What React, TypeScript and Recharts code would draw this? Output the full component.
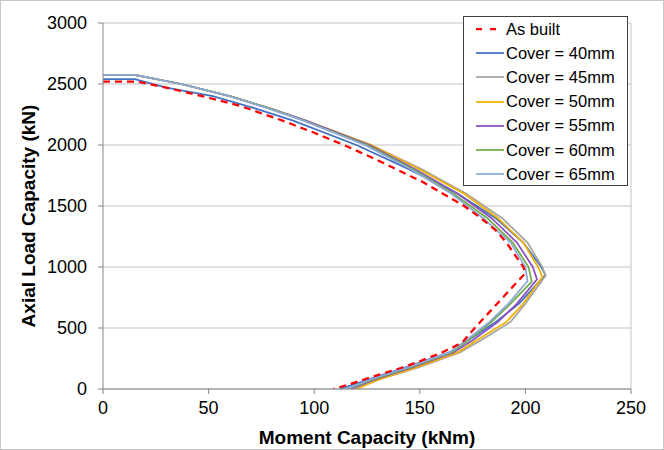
import { LineChart, Line, XAxis, YAxis, CartesianGrid, ReferenceLine } from 'recharts';

// moment (kNm) / axial load (kN) points
const asBuiltM = [0, 16, 30, 47, 65, 85, 100, 114, 127, 139, 151, 161, 171, 179, 186, 191, 199, 200, 194, 188, 176, 170, 160, 150, 141, 132, 124, 116, 109];
const asBuiltP = [2520, 2520, 2470, 2400, 2320, 2200, 2100, 2000, 1900, 1800, 1700, 1600, 1500, 1400, 1300, 1200, 1000, 950, 838, 725, 500, 380, 295, 228, 172, 125, 80, 35, 0];

const cover40M = [0, 15, 30, 52, 72, 90, 120, 145, 168, 186, 199, 207.5, 209.5, 197, 186, 173, 164, 143, 126, 112];
const cover40P = [2540, 2540, 2470, 2400, 2300, 2200, 2000, 1800, 1600, 1400, 1200, 1000, 935, 700, 550, 400, 300, 175, 80, 0];

const coverP = [2575, 2575, 2500, 2400, 2300, 2200, 2000, 1800, 1600, 1400, 1200, 1000];
const cover45M = [0, 15, 37, 60, 79, 96, 127, 151, 172, 189, 201, 208, 209.5, 200, 193, 179, 169, 149, 131, 118];
const cover50M = [0, 15, 37, 60, 79, 96, 127, 150, 171, 187, 199, 206, 208, 199, 191, 177, 168, 148, 131, 120];
const cover55M = [0, 15, 37, 60, 79, 96, 126, 148, 168, 184, 196, 203.5, 205.5, 196, 187, 175, 166, 146, 129, 117];
const cover60M = [0, 15, 37, 60, 79, 95, 125, 147, 166, 182, 194, 201.5, 203, 193, 184, 173, 165, 145, 128, 116];
const cover65M = [0, 15, 37, 60, 78, 95, 124, 146, 165, 180, 193, 200, 201, 192, 183, 172, 164, 144, 127, 115];
const peakP45 = 928;
const peakP50 = 918;
const peakP55 = 900;
const peakP60 = 880;
const peakP65 = 885;
const lowerP = [700, 550, 400, 300, 175, 80, 0];

const xTicks = [0, 50, 100, 150, 200, 250];
const yTicks = [0, 500, 1000, 1500, 2000, 2500, 3000];

const zip = (m: number[], p: number[]) => m.map((v, i) => ({ m: v, p: p[i] }));

const asBuilt = zip(asBuiltM, asBuiltP);
const cover40 = zip(cover40M, cover40P);
const cover45 = zip(cover45M, [...coverP, peakP45, ...lowerP]);
const cover50 = zip(cover50M, [...coverP, peakP50, ...lowerP]);
const cover55 = zip(cover55M, [...coverP, peakP55, ...lowerP]);
const cover60 = zip(cover60M, [...coverP, peakP60, ...lowerP]);
const cover65 = zip(cover65M, [...coverP, peakP65, ...lowerP]);

const series = [
  { name: 'Cover = 40mm', data: cover40, color: '#4472C4' },
  { name: 'Cover = 45mm', data: cover45, color: '#A5A5A5' },
  { name: 'Cover = 50mm', data: cover50, color: '#F0B000' },
  { name: 'Cover = 55mm', data: cover55, color: '#8A4FC0' },
  { name: 'Cover = 60mm', data: cover60, color: '#70AD47' },
  { name: 'Cover = 65mm', data: cover65, color: '#8EA9DB' },
];

const font = 'Arial, "Liberation Sans", sans-serif';
const axisColor = '#868686';
const tickStyle = { fill: '#000', fontSize: 18, fontFamily: font };

function Legend() {
  const rows = [{ name: 'As built', color: '#FF0000', dashed: true }, ...series.map((s) => ({ ...s, dashed: false }))];
  return (
    <div
      style={{
        position: 'absolute',
        left: 463,
        top: 16,
        width: 165,
        height: 170,
        boxSizing: 'border-box',
        border: '1px solid #404040',
        background: '#fff',
        fontFamily: font,
        fontSize: 16.5,
      }}
    >
      {rows.map((r) => (
        <div key={r.name} style={{ display: 'flex', alignItems: 'center', height: 24.2 }}>
          <svg width={42} height={24} style={{ flex: 'none' }}>
            <line
              x1={12}
              x2={40}
              y1={12}
              y2={12}
              stroke={r.color}
              strokeWidth={r.dashed ? 2.25 : 1.75}
              strokeDasharray={r.dashed ? '6 8' : undefined}
            />
          </svg>
          <span style={{ color: '#000', whiteSpace: 'nowrap' }}>{r.name}</span>
        </div>
      ))}
    </div>
  );
}

export default function App() {
  return (
    <div style={{ position: 'absolute', left: 0, top: 0, width: 664, height: 450, background: '#fff' }}>
      <LineChart width={664} height={450} margin={{ top: 23, right: 33, left: 0, bottom: 0 }}>
        <CartesianGrid vertical={false} stroke="#c4c4c4" strokeWidth={1} />
        <XAxis
          type="number"
          dataKey="m"
          domain={[0, 250]}
          ticks={xTicks}
          height={61}
          stroke={axisColor}
          tickSize={5}
          tickMargin={7}
          tick={tickStyle}
          allowDataOverflow
          label={(props: any) => {
            const vb = props.viewBox;
            const cx = vb.x + vb.width / 2;
            return (
              <text x={cx} y={437} textAnchor="middle" dominantBaseline="central" fontFamily={font} fontSize={19} fontWeight="bold" fill="#000">
                Moment Capacity (kNm)
              </text>
            );
          }}
        />
        <YAxis
          type="number"
          dataKey="p"
          domain={[0, 3000]}
          ticks={yTicks}
          width={103}
          stroke={axisColor}
          tickSize={5}
          tickMargin={11}
          tick={tickStyle}
          allowDataOverflow
          label={(props: any) => {
            const vb = props.viewBox;
            const cx = 28;
            const cy = vb.y + vb.height / 2 + 10;
            return (
              <text
                x={cx}
                y={cy}
                transform={`rotate(-90 ${cx} ${cy})`}
                textAnchor="middle"
                dominantBaseline="central"
                fontFamily={font}
                fontSize={19}
                fontWeight="bold"
                fill="#000"
              >
                Axial Load Capacity (kN)
              </text>
            );
          }}
        />
        <ReferenceLine x={250} stroke="#c4c4c4" />
        {series.map((s) => (
          <Line
            key={s.name}
            data={s.data}
            dataKey="p"
            name={s.name}
            type="linear"
            stroke={s.color}
            strokeWidth={1.75}
            dot={false}
            activeDot={false}
            isAnimationActive={false}
          />
        ))}
        <Line
          data={asBuilt}
          dataKey="p"
          name="As built"
          type="linear"
          stroke="#FF0000"
          strokeWidth={2.25}
          strokeDasharray="7 5"
          dot={false}
          activeDot={false}
          isAnimationActive={false}
        />
      </LineChart>
      <Legend />
      <div
        style={{
          position: 'absolute',
          left: 0,
          top: 0,
          width: 664,
          height: 450,
          boxSizing: 'border-box',
          border: '1px solid #c8c8c8',
          pointerEvents: 'none',
        }}
      />
    </div>
  );
}
